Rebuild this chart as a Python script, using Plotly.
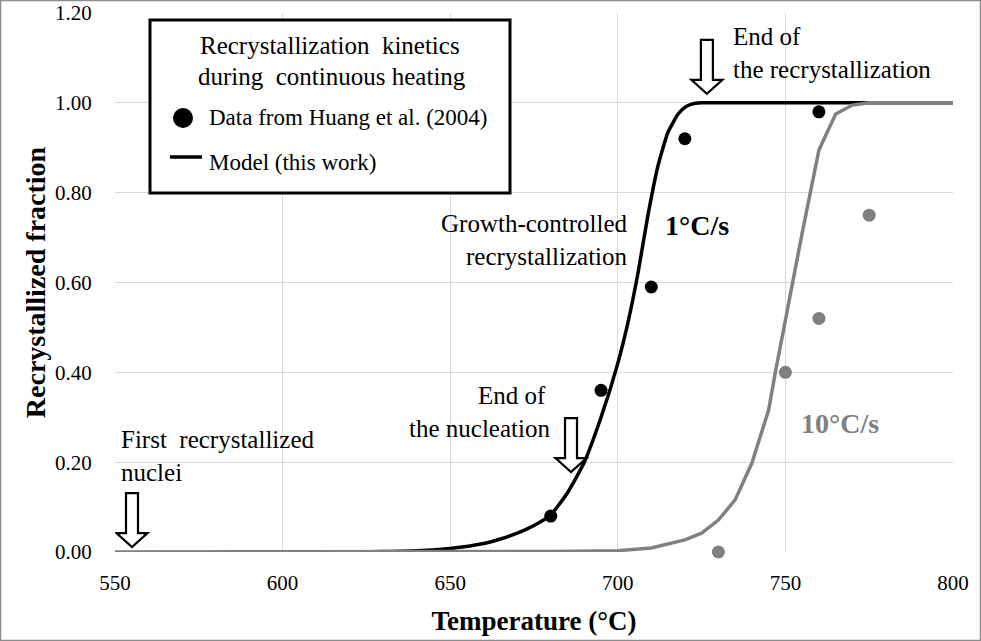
import plotly.graph_objects as go

# ---------------- data ----------------
x_ticks = [550, 600, 650, 700, 750, 800]
y_ticks = [0.0, 0.2, 0.4, 0.6, 0.8, 1.0, 1.2]

# experimental data (Huang et al. 2004)
data_1cs_T = [680, 695, 710, 720, 760]
data_1cs_f = [0.08, 0.36, 0.59, 0.92, 0.98]
data_10cs_T = [730, 750, 760, 775]
data_10cs_f = [0.00, 0.40, 0.52, 0.75]

# model curves (this work)
model_1cs_T = [623, 630, 640, 650, 660, 665, 670, 675, 680, 685, 690, 695, 700, 703, 706,
               709, 712, 715, 718, 720, 722, 725, 730, 740, 760, 800]
model_1cs_f = [0.000, 0.001, 0.003, 0.008, 0.019, 0.029, 0.042, 0.059, 0.083, 0.132, 0.200,
               0.300, 0.420, 0.510, 0.620, 0.750, 0.860, 0.935, 0.975, 0.990, 0.997, 1.000,
               1.000, 1.000, 1.000, 1.000]
model_10cs_T = [550, 600, 650, 680, 700, 710, 720, 725, 730, 735, 740, 745, 747, 750, 755,
                760, 765, 770, 775, 800]
model_10cs_f = [0.0, 0.0, 0.0, 0.001, 0.003, 0.009, 0.027, 0.042, 0.071, 0.116, 0.198, 0.316,
                0.40, 0.52, 0.71, 0.895, 0.975, 0.995, 1.0, 1.0]

# ---------------- layout constants ----------------
W, H = 981, 641
ML, MR, MT, MB = 115, 28, 13, 89
XMIN, XMAX, YMIN, YMAX = 550, 800, 0.0, 1.2
PW, PH = W - ML - MR, H - MT - MB
SX = PW / (XMAX - XMIN)   # px per degree
SY = PH / (YMAX - YMIN)   # px per unit fraction

FONT = "Liberation Serif"
BLACK = "#000000"
GREY = "#808080"

fig = go.Figure()

fig.add_trace(go.Scatter(x=model_1cs_T, y=model_1cs_f, mode="lines",
                         line=dict(color=BLACK, width=3.5, shape="spline", smoothing=0.5),
                         showlegend=False, hoverinfo="skip"))
fig.add_trace(go.Scatter(x=model_10cs_T, y=model_10cs_f, mode="lines",
                         line=dict(color=GREY, width=3.5),
                         showlegend=False, hoverinfo="skip"))
fig.add_trace(go.Scatter(x=data_1cs_T, y=data_1cs_f, mode="markers", cliponaxis=False,
                         marker=dict(color=BLACK, size=13), showlegend=False))
fig.add_trace(go.Scatter(x=data_10cs_T, y=data_10cs_f, mode="markers", cliponaxis=False,
                         marker=dict(color=GREY, size=13), showlegend=False))

shapes = []

# hollow down arrows (tip in data coords, sizes in pixels)
def arrow(tx, ty):
    sw, hw, hh, total = 6.0, 15.5, 14.0, 54.0
    pts = [(-sw, total), (sw, total), (sw, hh), (hw, hh), (0, 0), (-hw, hh), (-sw, hh)]
    path = "M " + " L ".join(f"{tx + dx / SX:.4f},{ty + dy / SY:.5f}" for dx, dy in pts) + " Z"
    return dict(type="path", xref="x", yref="y", path=path,
                line=dict(color=BLACK, width=2.2), fillcolor="white", layer="above")

shapes.append(arrow(555.07, 0.011))
shapes.append(arrow(686.04, 0.178))
shapes.append(arrow(726.58, 1.020))

def px2paper_x(px):
    return (px - ML) / PW

def px2paper_y(py):
    return (H - MB - py) / PH

# legend box
shapes.append(dict(type="rect", xref="paper", yref="paper",
                   x0=px2paper_x(150), x1=px2paper_x(510), y0=px2paper_y(193), y1=px2paper_y(20),
                   line=dict(color=BLACK, width=3), fillcolor="white", layer="above"))
shapes.append(dict(type="circle", xref="paper", yref="paper",
                   x0=px2paper_x(173), x1=px2paper_x(193), y0=px2paper_y(128), y1=px2paper_y(108),
                   line=dict(color=BLACK, width=0), fillcolor=BLACK, layer="above"))
shapes.append(dict(type="line", xref="paper", yref="paper",
                   x0=px2paper_x(170), x1=px2paper_x(202), y0=px2paper_y(157), y1=px2paper_y(157),
                   line=dict(color=BLACK, width=3.5), layer="above"))
# outer image frame
shapes.append(dict(type="rect", xref="paper", yref="paper",
                   x0=px2paper_x(0.5), x1=px2paper_x(980.5), y0=px2paper_y(640.5), y1=px2paper_y(0.5),
                   line=dict(color="#8c8c8c", width=1.5), fillcolor="rgba(0,0,0,0)", layer="above"))

anns = []

def txt(text, x, y, xanchor="left", size=25, color=BLACK, ref="data", bold=False):
    t = f"<b>{text}</b>" if bold else text
    d = dict(text=t, x=x, y=y, xanchor=xanchor, yanchor="middle", showarrow=False,
             font=dict(family=FONT, size=size, color=color))
    if ref == "paper":
        d.update(xref="paper", yref="paper")
    else:
        d.update(xref="x", yref="y")
    anns.append(d)

def dx(px):
    return XMIN + (px - ML) / SX

def dy(py):
    return (H - MB - py) / SY

txt("End of", dx(731), dy(36))
txt("the recrystallization", dx(731), dy(69))
txt("Growth-controlled", dx(630), dy(223), xanchor="right")
txt("recrystallization", dx(630), dy(256), xanchor="right")
txt("1°C/s", dx(663), dy(225), bold=True, size=28)
txt("End of", dx(512), dy(395), xanchor="center")
txt("the nucleation", dx(479), dy(428), xanchor="center")
txt("10°C/s", dx(799), dy(423), bold=True, size=28, color=GREY)
txt("First  recrystallized", dx(119), dy(439))
txt("nuclei", dx(119), dy(472))

txt("Recrystallization  kinetics", px2paper_x(330), px2paper_y(45), xanchor="center", size=25, ref="paper")
txt("during  continuous heating", px2paper_x(332), px2paper_y(76), xanchor="center", size=25, ref="paper")
txt("Data from Huang et al. (2004)", px2paper_x(207), px2paper_y(118), size=23, ref="paper")
txt("Model (this work)", px2paper_x(207), px2paper_y(162), size=23, ref="paper")

fig.update_layout(
    width=W, height=H, autosize=False,
    margin=dict(l=ML, r=MR, t=MT, b=MB, pad=0, autoexpand=False),
    paper_bgcolor="white", plot_bgcolor="white",
    shapes=shapes, annotations=anns,
    font=dict(family=FONT, color=BLACK),
    xaxis=dict(range=[XMIN, XMAX], tickvals=x_ticks, ticktext=[str(v) for v in x_ticks],
               showgrid=True, gridcolor="#d9d9d9", gridwidth=1, zeroline=False, automargin=False,
               showline=False, ticks="outside", ticklen=12, tickcolor="rgba(0,0,0,0)",
               tickfont=dict(family=FONT, size=21, color=BLACK),
               title=dict(text="<b>Temperature (°C)</b>", font=dict(family=FONT, size=27, color=BLACK),
                          standoff=16)),
    yaxis=dict(range=[YMIN, YMAX], tickvals=y_ticks, ticktext=[f"{v:.2f}" for v in y_ticks],
               showgrid=True, gridcolor="#d9d9d9", gridwidth=1, zeroline=False, automargin=False,
               showline=False, ticks="outside", ticklen=18, tickcolor="rgba(0,0,0,0)",
               tickfont=dict(family=FONT, size=21, color=BLACK),
               title=dict(text="<b>Recrystallized fraction</b>", font=dict(family=FONT, size=28, color=BLACK),
                          standoff=1)),
)

fig.write_html("out.html", config={"displayModeBar": False},
               post_script="document.body.style.margin='0';document.body.style.overflow='hidden';")
